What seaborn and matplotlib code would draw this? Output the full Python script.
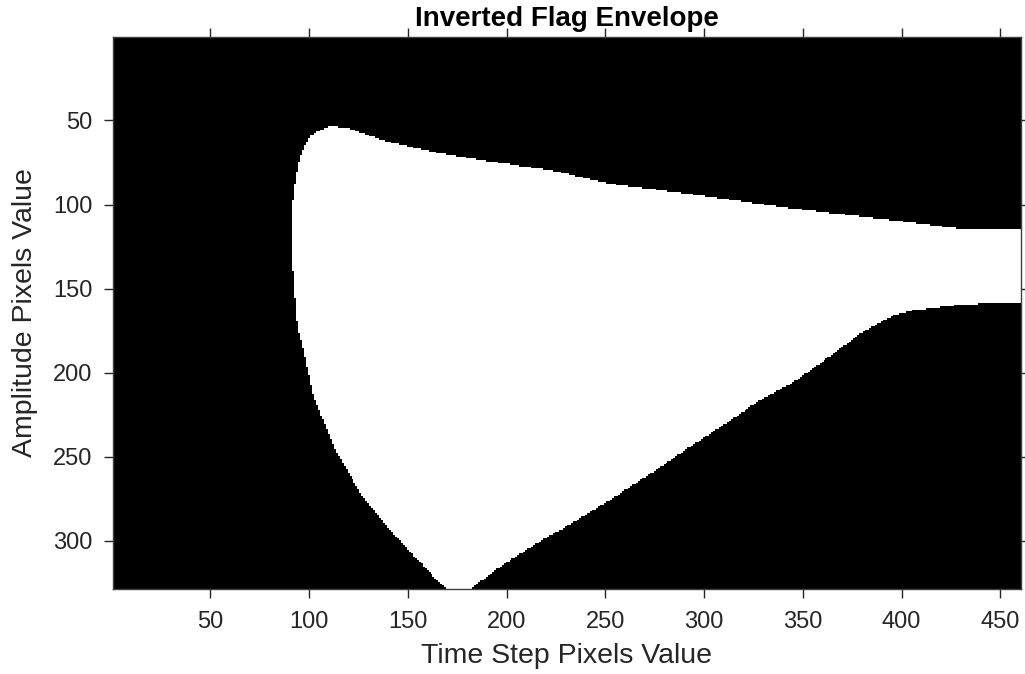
import numpy as np
import matplotlib
matplotlib.use("Agg")
import matplotlib.pyplot as plt
from matplotlib.path import Path
import seaborn as sns

# ---- data: envelope boundary (pixel coordinates) ----
n_cols = 460
n_rows = 328

top_x = [110.4, 120.9, 137.8, 163.1, 188.4, 222.2, 252.6, 294.8, 345.5, 396.1, 429.9, 461.0]
top_y = [53.4, 55.0, 61.9, 68.8, 73.8, 79.7, 87.6, 94.0, 102.5, 109.4, 114.3, 115.0]

bottom_x = [461.0, 431.6, 406.3, 396.1, 389.4, 379.3, 362.4, 345.5, 328.6, 303.3, 278.1,
            252.6, 227.3, 222.2, 196.9, 183.4, 182.0, 170.0]
bottom_y = [158.0, 159.3, 162.8, 165.8, 169.8, 176.7, 191.5, 205.4, 216.3, 236.1, 255.9,
            275.7, 293.5, 296.5, 315.3, 327.1, 329.0, 329.0]

left_x = [168.2, 154.7, 139.5, 126.0, 112.5, 102.3, 97.3, 94.2, 93.1, 92.2, 91.4, 91.7,
          92.7, 94.7, 97.3, 100.6]
left_y = [327.1, 311.3, 291.5, 271.7, 244.0, 214.3, 186.6, 172.8, 157.0, 145.0, 121.3, 101.5,
          89.6, 75.7, 65.9, 58.9]

x_ticks = [50, 100, 150, 200, 250, 300, 350, 400, 450]
y_ticks = [50, 100, 150, 200, 250, 300]

title = "Inverted Flag Envelope"
xlabel = "Time Step Pixels Value"
ylabel = "Amplitude Pixels Value"

# ---- build binary image from boundary ----
poly = np.column_stack([top_x + bottom_x + left_x, top_y + bottom_y + left_y])
cols = np.arange(1, n_cols + 1)
rows = np.arange(1, n_rows + 1)
gx, gy = np.meshgrid(cols, rows)
inside = Path(poly).contains_points(np.column_stack([gx.ravel(), gy.ravel()]))
img = inside.reshape(n_rows, n_cols).astype(float)

# ---- plot ----
sns.set_theme(style="white")
plt.rcParams["font.family"] = ["Liberation Sans", "DejaVu Sans"]
fig = plt.figure(figsize=(10.25, 6.74), dpi=100)
ax = fig.add_axes([0.1098, 0.1266, 0.9961 - 0.1098, 0.9447 - 0.1266])

sns.heatmap(img, cmap="gray", vmin=0, vmax=1, cbar=False, ax=ax,
            xticklabels=False, yticklabels=False, rasterized=True)

ax.set_xticks([v - 0.5 for v in x_ticks])
ax.set_xticklabels([str(v) for v in x_ticks])
ax.set_yticks([v - 0.5 for v in y_ticks])
ax.set_yticklabels([str(v) for v in y_ticks], rotation=0)

txt = "#262626"
ax.tick_params(axis="both", which="both", direction="out", length=6.5, width=1,
               color=txt, labelcolor=txt, labelsize=17,
               top=True, right=True, bottom=True, left=True)
ax.tick_params(axis="x", pad=9.5)
ax.tick_params(axis="y", pad=8)
for s in ax.spines.values():
    s.set_visible(True)
    s.set_color("#404040")
    s.set_linewidth(1)

ax.set_xlabel(xlabel, fontsize=20.5, color=txt, labelpad=7)
ax.set_ylabel(ylabel, fontsize=20.5, color=txt, labelpad=11)
ax.set_title(title, fontsize=20, fontweight="bold", color="black", pad=8)

fig.savefig("out.png", dpi=100)
